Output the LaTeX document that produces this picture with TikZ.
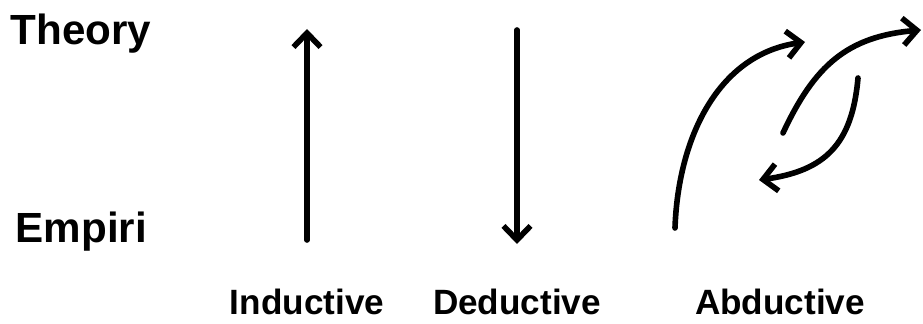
\documentclass[tikz,border=0pt]{standalone}
\usepackage{fontspec}
\setmainfont{Liberation Sans}
\usetikzlibrary{arrows.meta}
\tikzset{
  level/.style={font=\bfseries\fontsize{12}{14}\selectfont,anchor=base west,inner sep=0pt},
  kind/.style={font=\bfseries\fontsize{10}{12}\selectfont,anchor=base,inner sep=0pt},
  line/.style={line width=1.6pt,line cap=round,-{Straight Barb[length=1.4mm,width=2.7mm]}}
}

\begin{document}
\begin{tikzpicture}
\useasboundingbox (0,0) rectangle (9.23,3.23);
% row labels
\node[level] (theory) at (0.10,2.78) {Theory};
\node[level] (empiri) at (0.15,0.80) {Empiri};
% column labels
\node[kind] (ind) at (3.07,0.08) {Inductive};
\node[kind] (ded) at (5.17,0.08) {Deductive};
\node[kind] (abd) at (7.80,0.08) {Abductive};
% end points of the arrows
\coordinate (ind-lo) at (3.07,0.83);
\coordinate (ind-hi) at (3.07,2.94);
\coordinate (ded-hi) at (5.17,2.93);
\coordinate (ded-lo) at (5.17,0.79);
\coordinate (abd-a) at (6.75,0.95);
\coordinate (abd-b) at (8.05,2.81);
\coordinate (abd-c) at (7.83,1.90);
\coordinate (abd-d) at (9.21,2.93);
\coordinate (abd-e) at (8.58,2.45);
\coordinate (abd-f) at (7.59,1.43);
\draw[line] (ind-lo) -- (ind-hi);
\draw[line] (ded-hi) -- (ded-lo);
\draw[line] (abd-a) to[out=88,in=188] (abd-b);
\draw[line] (abd-c) to[out=65,in=185,looseness=1.1] (abd-d);
\draw[line] (abd-e) to[out=265,in=8,looseness=1.2] (abd-f);
\end{tikzpicture}
\end{document}
